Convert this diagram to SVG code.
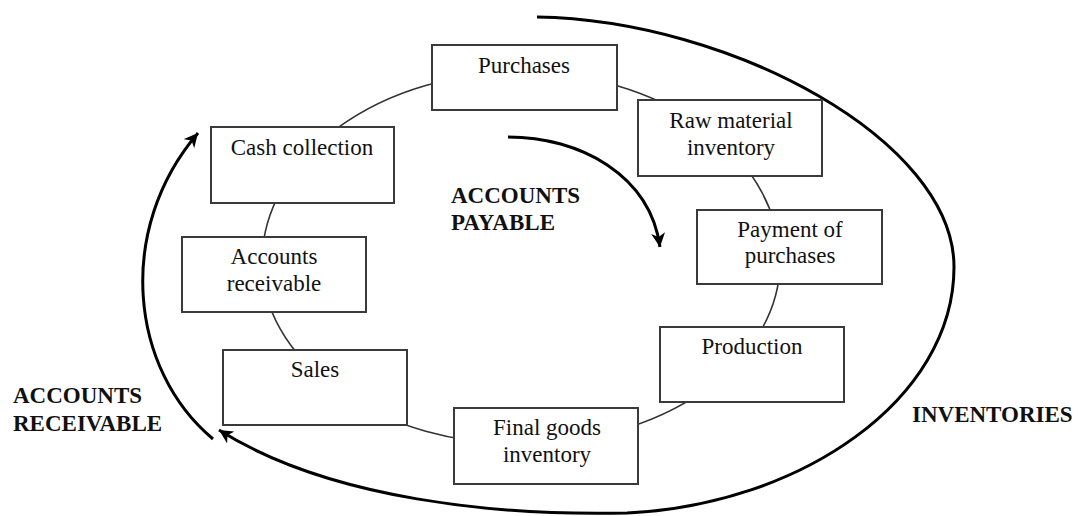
<svg xmlns="http://www.w3.org/2000/svg" width="1078" height="516" viewBox="0 0 1078 516">
<style>
.box{fill:#fff;stroke:#3a3a3a;stroke-width:2}
.t{font-family:"Liberation Serif","Times New Roman",serif;font-size:23px;fill:#111;text-anchor:middle}
.b{font-family:"Liberation Serif","Times New Roman",serif;font-size:23px;font-weight:bold;fill:#111}
.arc{fill:none;stroke:#000;stroke-width:3}
.ring{fill:none;stroke:#333;stroke-width:1.6}
</style>
<defs>
<marker id="ah" markerUnits="userSpaceOnUse" markerWidth="16" markerHeight="14" refX="14" refY="7" orient="auto">
<path d="M0,0 L14,7 L0,14 L4,7 Z" fill="#000"/>
</marker>
</defs>
<rect width="1078" height="516" fill="#fff"/>
<g id="connectors">
<path class="ring" d="M262,262 A259,190 0 0 1 780,262 A259,182 0 0 1 262,262 Z"/>
<path class="arc" d="M537,17 C730,20 954,140 954,267 C954,400 800,505 627,513 C500,516 330,500 219,430" marker-end="url(#ah)"/>
<path class="arc" d="M213,439 C130,370 115,230 198,133" marker-end="url(#ah)"/>
<path class="arc" d="M508,137 C580,137 650,175 660,247" marker-end="url(#ah)"/>
</g>
<g id="purchases"><rect class="box" x="432" y="45" width="185" height="65"/><text class="t" x="524" y="73">Purchases</text></g>
<g id="raw-material"><rect class="box" x="638" y="100" width="184" height="76"/><text class="t" x="731" y="128">Raw material</text><text class="t" x="731" y="155">inventory</text></g>
<g id="payment"><rect class="box" x="697" y="210" width="185" height="74"/><text class="t" x="790" y="237">Payment of</text><text class="t" x="790" y="263">purchases</text></g>
<g id="production"><rect class="box" x="660" y="327" width="184" height="75"/><text class="t" x="752" y="354">Production</text></g>
<g id="final-goods"><rect class="box" x="454" y="408" width="184" height="76"/><text class="t" x="547" y="435">Final goods</text><text class="t" x="547" y="462">inventory</text></g>
<g id="sales"><rect class="box" x="223" y="350" width="184" height="75"/><text class="t" x="315" y="377">Sales</text></g>
<g id="accounts-receivable"><rect class="box" x="182" y="237" width="184" height="75"/><text class="t" x="274" y="264">Accounts</text><text class="t" x="274" y="291">receivable</text></g>
<g id="cash-collection"><rect class="box" x="211" y="127" width="183" height="76"/><text class="t" x="302" y="155">Cash collection</text></g>
<g id="labels">
<text class="b" x="451" y="203">ACCOUNTS</text>
<text class="b" x="451" y="230">PAYABLE</text>
<text class="b" x="13" y="403">ACCOUNTS</text>
<text class="b" x="13" y="431">RECEIVABLE</text>
<text class="b" x="912" y="422">INVENTORIES</text>
</g>
</svg>
